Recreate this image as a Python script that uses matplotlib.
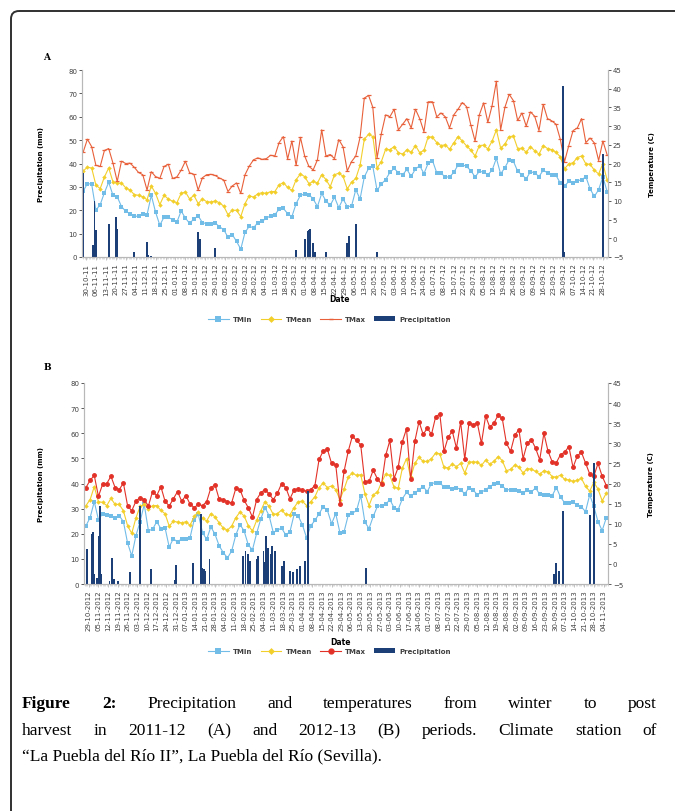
import numpy as np
import pandas as pd
import matplotlib
matplotlib.use('Agg')
import matplotlib.pyplot as plt
import matplotlib.dates as mdates
from matplotlib.lines import Line2D
from matplotlib.patches import Patch, FancyBboxPatch

# ---------------- panel A : 2011-12, one reading every 3 days from 28-10-2011
tmax_a = [23, 26.5, 24.5, 19.5, 19.2, 23.5, 24, 20.1, 15.2, 20.6,
          20.0, 20.1, 19, 17.6, 17.0, 12.9, 17.8, 16.5, 16, 19.2,
          19.8, 16, 16.4, 18.2, 20.6, 17.5, 17.1, 12.9, 16.2, 17.0,
          17.1, 16.8, 16.1, 15.6, 12.5, 14, 14.8, 12, 17.0, 19.3,
          21, 21.5, 21.1, 21.3, 22.2, 22, 25.6, 27.2, 21.2, 26,
          19.5, 27, 22, 19.2, 18.3, 21, 29, 22, 22.4, 21.3,
          26.4, 24.5, 18, 20.5, 22, 27, 37.5, 38.2, 35, 21.5,
          28, 33, 32.5, 34.5, 29, 30.5, 32, 29.5, 34.5, 32,
          28.5, 36.5, 36.5, 32.5, 33.5, 32.5, 29.5, 33, 34.5, 36.3,
          35.2, 30.3, 26, 33, 36.2, 31, 35.5, 42, 29, 35,
          38.5, 36.8, 31.5, 33.5, 30, 33.8, 32.6, 28.8, 35.8, 32,
          31.4, 30.5, 26.5, 20.5, 24.8, 28.8, 29.5, 32, 25.6, 26.8,
          25.5, 20.8, 26, 22.3]
tmean_a = [18, 19, 18.8, 14.2, 13.3, 16.4, 18.8, 15.1, 14.7, 14.8,
           13.5, 12.9, 11.7, 11.5, 11.1, 10.3, 14, 12, 9, 11.5,
           10.5, 9.9, 9.5, 12, 12.4, 10.5, 11.5, 9.3, 10.5, 9.8,
           9.7, 10, 9.5, 8.6, 6.3, 7.5, 7.5, 5.8, 9.3, 11.4,
           11, 11.9, 12.2, 12, 12.5, 12.5, 14.3, 14.9, 13.6, 12.8,
           15.7, 17.2, 16.5, 14.6, 15.2, 14.8, 17, 15.7, 13.8, 17,
           17.4, 16.6, 13.2, 15, 16, 19.5, 26.5, 27.8, 27.2, 18.8,
           20.5, 23.8, 23.7, 24.5, 22.9, 22.5, 23.7, 23, 24.8, 22.9,
           23.5, 27.2, 27, 25.6, 24.8, 25, 23.8, 25.5, 27.2, 26,
           24.7, 23.6, 22, 24.8, 24.9, 23.9, 26, 29, 24.1, 25.2,
           27.2, 27.3, 24, 24.1, 23, 24.5, 23.4, 22.5, 24.8, 24,
           23.7, 23, 21.8, 18.6, 19.9, 20.2, 21.6, 22, 19.9, 19.8,
           18.2, 17.2, 20, 15.6]
tmin_a = [12.6, 14.6, 14.5, 7.5, 9, 12.2, 15, 11.5, 11.1, 8.5,
          7.2, 6.6, 5.9, 5.9, 6.6, 6.3, 11.5, 7, 3.5, 5.7,
          5.6, 5, 4.3, 7.3, 5.4, 4, 5.2, 6, 4.2, 3.9,
          3.8, 4.1, 3.1, 2.3, 0.3, 1, -0.8, -2.9, 1.6, 3.2,
          2.8, 4.2, 4.5, 5.4, 6, 6.3, 7.8, 8, 6.6, 5.8,
          9.3, 11.5, 11.8, 11.7, 10.5, 8.5, 12, 10, 8.8, 11,
          8.2, 10.5, 8.5, 8.6, 13, 10.5, 16.4, 18.7, 19.2, 12.8,
          14.5, 15.7, 17.6, 18.7, 17.5, 17, 18.4, 16.6, 18.5, 19.4,
          17.3, 20.1, 20.8, 17.5, 17.4, 16.4, 16.4, 17.6, 19.6, 19.7,
          19.2, 18.1, 16.4, 17.9, 17.7, 17, 18.2, 21.4, 17.2, 18.9,
          21, 20.6, 17.9, 17, 15.9, 17.8, 17.5, 16.5, 18.2, 17.5,
          16.8, 16.8, 14.8, 14, 15.2, 14.8, 15.4, 15.6, 16.5, 13.2,
          11.2, 13, 16.4, 12.5]
# rain days counted from 30-10-2011
rain_a_day = [-3, -2, 5, 6, 7, 16, 21, 22, 34, 43, 44, 46, 79, 80, 91,
              148, 154, 156, 157, 158, 160, 161, 169, 184, 185, 190, 205,
              336, 337, 364]
rain_a = [4, 36, 5, 24, 11.5, 14, 17, 12, 2, 6.5, 1, 0.5, 10.5, 7.5, 4,
          3, 7.5, 11, 11.5, 12, 6, 2, 2, 6, 9, 14, 2,
          73, 2, 44]

# ---------------- panel B : 2012-13, one reading every 3 days from 27-10-2012
tmax_b = [19, 20.8, 22, 16.8, 19.8, 20, 21.8, 19, 18.5, 20.1,
          14.5, 13.2, 15.6, 16.5, 16, 14.4, 18, 17, 19.2, 15.6,
          14.4, 16.2, 18, 15.6, 17, 14.9, 14, 14.8, 14.5, 15.5,
          18.9, 19.7, 16.1, 16, 15.5, 15.2, 18.8, 18.5, 15.8, 14,
          11.6, 16, 17.7, 18.5, 17.4, 16, 17.6, 20, 19, 16.2,
          18.4, 18.7, 18.3, 18.1, 18.5, 19.5, 26, 28.1, 28.5, 25,
          24.7, 15, 23, 28, 31.8, 30.7, 29.6, 20.3, 20.5, 23.3,
          21.2, 19.8, 27, 30.7, 21.2, 24, 30.4, 33.6, 21, 30.5,
          35.4, 32.2, 33.8, 32.2, 36.6, 37.3, 28, 31.5, 33, 28.8,
          35.3, 26, 35.1, 34.6, 35.1, 30, 36.8, 34, 35, 37,
          36.2, 30, 28, 32, 33.4, 26.2, 30, 30.9, 28.8, 25.9,
          32.5, 28, 25.4, 25.2, 27.2, 27.8, 29.2, 24, 26.8, 27.8,
          25.1, 22.4, 21.8, 25, 21.8, 19.5]
tmean_b = [14.5, 16, 19.2, 15.5, 15.3, 14.5, 16.3, 14.8, 14.8, 13.2,
           9.5, 7.6, 11.4, 14.3, 14.8, 13.7, 14.5, 14.5, 13.3, 12.5,
           9.4, 10.6, 10.4, 10.2, 10.5, 9.6, 11.8, 13, 11.3, 10.7,
           12.5, 11.7, 10.2, 8.9, 8.4, 9.4, 11.5, 12.9, 11.9, 9.5,
           8.2, 10.8, 13.2, 15.5, 14.3, 12.3, 12.5, 13.4, 12.3, 12.2,
           14, 15.5, 15.6, 14.5, 15.5, 16.7, 19, 20.1, 19, 19.4,
           18.5, 16, 18.6, 21.6, 22.6, 22, 22.2, 17.5, 14.5, 17.2,
           17.8, 20.3, 22.3, 22, 19.1, 18.8, 23.8, 26.2, 21.5, 25,
           26.5, 25.5, 25.5, 26.2, 27.6, 27.4, 24, 23.9, 24.8, 24.2,
           25, 22.6, 25.3, 25.4, 25.3, 24.5, 25.8, 24.8, 25.5, 26.7,
           25.7, 23.2, 23.5, 24.6, 24.1, 22.6, 23.7, 23.6, 23, 22.3,
           23.2, 22.9, 21.7, 21.6, 22.1, 21, 20.9, 20.5, 20.8, 21.3,
           19.3, 18.1, 20.3, 18.6, 15.7, 17.6]
tmin_b = [9.5, 11.5, 15.5, 11, 12.5, 12.2, 12, 11.5, 12, 10.5,
          5.2, 2, 7, 10.5, 14.8, 8.3, 8.6, 10.5, 8.8, 9,
          4.2, 6.3, 5.4, 6.3, 6.3, 6.5, 11, 12.3, 7.8, 6.1,
          9.2, 7.4, 4.5, 2.8, 1.5, 3.2, 7.2, 9.8, 8.2, 4.7,
          3.5, 7.6, 11.2, 14, 12, 7.8, 8.4, 8.9, 7.2, 8,
          12.3, 11.9, 9.7, 6.5, 9.5, 10.8, 12.5, 14.2, 13.3, 10,
          12.5, 7.8, 8, 12.1, 12.6, 13.3, 17, 10.4, 8.8, 11.8,
          14.3, 14.5, 14.8, 16, 14, 13.5, 16.2, 17.8, 16.9, 17.6,
          18.5, 19.2, 18, 20, 20.2, 20.2, 19.1, 19.2, 18.6, 19,
          18.5, 17.4, 19, 18.4, 17.2, 17.8, 18.5, 19.2, 19.9, 20.1,
          19.4, 18.4, 18.5, 18.5, 18.2, 17.6, 18.4, 17.9, 18.9, 17.3,
          17.2, 17.2, 17, 19, 16.6, 15.2, 15.1, 15.4, 14.6, 14.2,
          13, 17.2, 14.3, 10.5, 8.3, 11.5]
# rain days counted from 29-10-2012
rain_b_day = [-1, 2, 3, 4, 6, 7, 8, 9, 15, 17, 18, 21, 30, 37, 45, 62, 63,
              75, 81, 82, 83, 84, 87, 111, 113, 115, 116, 121, 122, 126,
              127, 128, 129, 131, 132, 134, 139, 141, 145, 147, 150, 152,
              156, 158, 200, 335, 337, 339, 342, 361, 364]
rain_b = [14, 20, 20.5, 4, 2.5, 19, 31, 4, 1, 10.5, 2, 1, 4.6, 31, 6, 1.5, 7.5,
          8.5, 28, 6.5, 5.9, 5.3, 10, 11, 13, 12, 9, 10, 11, 13,
          8.6, 19, 14.5, 12, 15, 13, 7, 9, 5, 4.6, 6, 7,
          9, 37, 6.4, 4, 8.4, 5, 29, 27.6, 48]

C_MIN = '#72bce8'
C_MEAN = '#f3cf2c'
C_RAIN = '#1d3f78'
GRAY = '#b8b8b8'
TXT = '#404040'

fig = plt.figure(figsize=(6.75, 8.12), dpi=100)
fig.patch.set_facecolor('white')

# page layer in pixel units: frame and caption
page = fig.add_axes([0, 0, 1, 1])
page.set_xlim(0, 675)
page.set_ylim(812, 0)
page.axis('off')
page.add_patch(FancyBboxPatch((11, 12), 720, 840,
                              boxstyle='round,pad=0,rounding_size=8',
                              fill=False, lw=1.4, ec='#303030', clip_on=False))


def panel(rect, start, first_label, tmax, tmean, tmin, rain_day, rain,
          ticks, fmt, xlim, max_color, max_marker, max_ms, label_xy, date_y):
    ax_t = fig.add_axes(rect)
    ax_p = ax_t.twinx()
    ax_t.yaxis.tick_right()
    ax_t.yaxis.set_label_position('right')
    ax_p.yaxis.tick_left()
    ax_p.yaxis.set_label_position('left')

    x = mdates.date2num(pd.date_range(start, periods=len(tmax), freq='3D'))
    ax_t.plot(x, tmin, color=C_MIN, lw=0.8, marker='s', ms=2.3, mew=0)
    ax_t.plot(x, tmean, color=C_MEAN, lw=0.8, marker='D', ms=2.3, mew=0)
    ax_t.plot(x, tmax, color=max_color, lw=0.8, marker=max_marker,
              ms=max_ms, mew=0.9, mec=max_color)

    x0 = mdates.date2num(pd.Timestamp(first_label))
    ax_p.bar(x0 + np.array(rain_day), rain, width=1.3, color=C_RAIN, lw=0)

    lo = x0 + xlim[0]
    hi = x0 + xlim[1]
    ax_t.set_xlim(lo, hi)
    ax_t.set_ylim(-5, 45)
    ax_p.set_ylim(0, 80)
    ax_t.set_yticks(range(-5, 50, 5))
    ax_p.set_yticks(range(0, 90, 10))

    tk = mdates.date2num(ticks)
    ax_t.set_xticks(tk)
    ax_t.set_xticklabels([d.strftime(fmt) for d in ticks], rotation=90)
    ax_t.set_xticks(np.arange(np.ceil(lo), hi, 1), minor=True)

    for a in (ax_t, ax_p):
        for s in a.spines.values():
            s.set_color(GRAY)
            s.set_linewidth(0.8)
        a.spines['top'].set_visible(False)
        a.tick_params(labelsize=5, colors=TXT, length=2, width=0.6, pad=1.5)
    ax_t.tick_params(axis='x', which='major', color=GRAY, length=2.5)
    ax_t.tick_params(axis='x', which='minor', color='#d0d0d0', length=1.5, width=0.5)

    ax_p.set_ylabel('Precipitation (mm)', fontsize=5, fontweight='bold')
    ax_p.yaxis.set_label_coords(label_xy[0], 0.5)
    ax_t.set_ylabel('Temperature (C)', fontsize=5, fontweight='bold')
    ax_t.yaxis.set_label_coords(label_xy[1], 0.5)
    ax_t.set_xlabel('Date', fontsize=5.5, fontweight='bold')
    ax_t.xaxis.set_label_coords(0.49, date_y)
    return ax_t


ticks_a = pd.date_range('2011-10-30', '2012-10-28', freq='7D')
ticks_b = pd.date_range('2012-10-29', '2013-11-04', freq='7D')

panel([82 / 675, 1 - 258 / 812, 526 / 675, 187 / 812], '2011-10-28', '2011-10-30',
      tmax_a, tmean_a, tmin_a, rain_a_day, rain_a, ticks_a, '%d-%m-%y',
      (-2.8, 367.6), '#e8603a', '_', 3.2, (-0.072, 1.078), -0.2)
panel([84 / 675, 1 - 585 / 812, 524 / 675, 201 / 812], '2012-10-27', '2012-10-29',
      tmax_b, tmean_b, tmin_b, rain_b_day, rain_b, ticks_b, '%d-%m-%Y',
      (-3.4, 374.2), '#e23228', 'o', 2.6, (-0.076, 1.076), -0.265)

for lab, y in (('A', 57), ('B', 368)):
    fig.text(47 / 675, 1 - y / 812, lab, fontsize=6.5, fontweight='bold',
             family='DejaVu Serif', ha='center', va='center')


def legend(y, max_color, max_marker):
    hs = [Line2D([], [], color=C_MIN, lw=0.8, marker='s', ms=4, mew=0),
          Line2D([], [], color=C_MEAN, lw=0.8, marker='D', ms=3.5, mew=0),
          Line2D([], [], color=max_color, lw=0.8, marker=max_marker, ms=3.5,
                 mew=1, mec=max_color),
          Patch(facecolor=C_RAIN)]
    fig.legend(hs, ['TMin', 'TMean', 'TMax', 'Precipitation'], ncol=4,
               loc='center', bbox_to_anchor=(0.488, y), frameon=False,
               prop={'size': 5, 'weight': 'bold'}, handlelength=3,
               handletextpad=0.6, columnspacing=1.2, labelcolor=TXT)


legend(1 - 320 / 812, '#e8603a', '_')
legend(1 - 652 / 812, '#e23228', 'o')

# caption, justified like the page
CAP = 'Liberation Serif'
rend = fig.canvas.get_renderer()


def justify(words, y, size, n_bold=0):
    ts = [page.text(0, y, w, fontsize=size, family=CAP, va='baseline',
                    fontweight='bold' if i < n_bold else 'normal')
          for i, w in enumerate(words)]
    ws = [t.get_window_extent(rend).width for t in ts]
    gap = (657 - 22 - sum(ws)) / (len(ws) - 1)
    xx = 22
    for t, w in zip(ts, ws):
        t.set_x(xx)
        xx += w + gap


justify(['Figure', '2:'] + 'Precipitation and temperatures from winter to post'.split(),
        708, 12.5, n_bold=2)
justify('harvest in 2011-12 (A) and 2012-13 (B) periods. Climate station of'.split(),
        735, 12.5)
page.text(22, 760, '\u201cLa Puebla del R\u00edo II\u201d, La Puebla del R\u00edo (Sevilla).',
          fontsize=12.5, family=CAP, va='baseline')

fig.savefig('out.png', dpi=100)
